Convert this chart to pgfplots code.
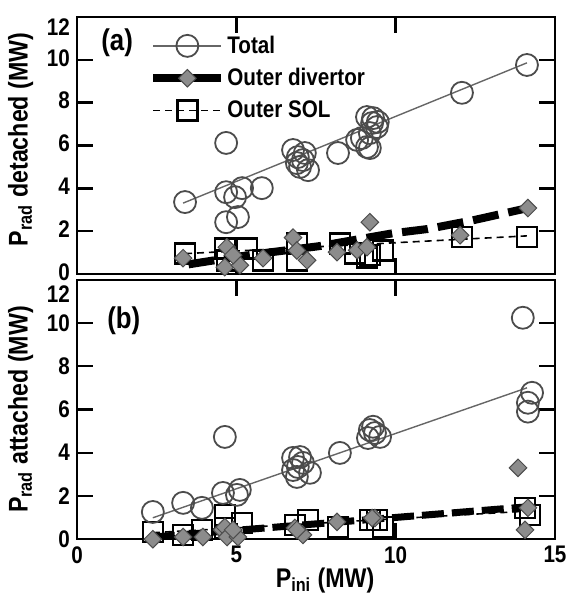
\documentclass[border=0pt]{standalone}
\usepackage{fontspec}
\setmainfont{Liberation Sans}[FakeStretch=0.86]
\usepackage{pgfplots}
\pgfplotsset{compat=1.18}

\pgfplotsset{
  panel/.style={
    scale only axis, width=239pt,
    xmin=0, xmax=15, ymin=0, ymax=12,
    xtick={0,5,10,15}, ytick={0,2,...,10},
    extra y ticks={12},
    tick align=inside, xtick pos=both, ytick pos=both,
    major tick length=8pt,
    every tick/.style={line width=1.2pt, black},
    axis line style={line width=1.2pt},
    tick label style={font=\fontsize{12}{12}\selectfont\bfseries},
    yticklabel style={inner ysep=0pt},
    /pgf/number format/assume math mode=true,
    label style={font=\fontsize{13.5}{14}\selectfont\bfseries},
    clip=false,
  },
  tot/.style={only marks, mark=o, mark size=5.5pt,
    mark options={draw=black!70, line width=0.9pt}, forget plot},
  div/.style={only marks, mark=square*, mark size=3.1pt,
    mark options={rotate=45, fill=black!45, draw=black!70, line width=0.5pt}, forget plot},
  sol/.style={only marks, mark=square, mark size=5pt,
    mark options={draw=black, line width=1.3pt}, forget plot},
  totline/.style={black!60, line width=0.7pt, forget plot},
  divline/.style={black, line width=4pt, dash pattern=on 13pt off 5pt, forget plot},
  solline/.style={black, line width=0.8pt, dash pattern=on 3.5pt off 2.5pt, forget plot},
}

\begin{document}
\begin{tikzpicture}
\useasboundingbox (0,0) rectangle (284pt,-297.5pt);

% ---------------- (a) detached ----------------
\begin{axis}[panel,
  at={(38.5pt,-137pt)}, anchor=south west, height=128.5pt,
  xticklabels={},
  yticklabel style={yshift=1pt},
  extra y tick style={yticklabel style={yshift=-6pt}},
  ylabel={P\textsubscript{rad} detached (MW)},
  every axis y label/.append style={at={(ticklabel cs:0.524)}},
  legend style={draw=none, fill=none, at={(0.138,0.96)}, anchor=north west,
    font=\fontsize{12}{12}\selectfont\bfseries, row sep=2pt,
    nodes={inner xsep=1pt, inner ysep=2pt}},
  legend cell align=left,
  legend image code/.code={\draw[#1, mark repeat=2, mark phase=2]
    plot coordinates {(0pt,0pt) (17pt,0pt) (34pt,0pt)};},
]
\addlegendimage{black!60, line width=0.7pt, mark=o, mark size=5.5pt,
  mark options={solid, draw=black!70, line width=0.9pt}}
\addlegendentry{Total}
\addlegendimage{black, line width=4pt, mark=square*, mark size=3.1pt,
  mark options={solid, rotate=45, fill=black!45, draw=black!70, line width=0.5pt}}
\addlegendentry{Outer divertor}
\addlegendimage{black, line width=0.8pt, dash pattern=on 3.5pt off 2.5pt,
  mark=square, mark size=5pt, mark options={solid, draw=black, line width=1.3pt}}
\addlegendentry{Outer SOL}

% outer SOL
\addplot[sol] coordinates {
  (3.39,0.97) (4.64,1.20) (5.33,1.20) (4.71,0.64) (5.84,0.64)
  (6.90,1.43) (6.90,0.64) (8.25,1.43) (8.72,0.97) (9.10,0.78)
  (9.60,1.11) (9.19,0.88) (12.08,1.72) (14.12,1.72)
};
\addplot[solline] coordinates {(3.39,0.95) (14.12,1.78)};
% outer divertor
\addplot[divline] coordinates {
  (3.5,0.45) (5.0,0.80) (6.0,1.00) (7.6,1.30) (9.9,1.90) (11.0,2.10) (12.4,2.50) (14.15,3.08)
};
\addplot[div] coordinates {
  (3.33,0.74) (4.70,1.25) (4.64,0.32) (5.11,0.41) (4.90,0.88) (5.84,0.74)
  (6.78,1.70) (6.90,1.10) (7.22,0.64) (8.16,1.02) (8.79,1.11)
  (9.19,2.42) (9.10,1.25) (12.02,1.81) (14.15,3.08)
};
% total
\addplot[tot] coordinates {
  (3.39,3.36) (4.68,6.12) (4.68,3.82) (4.96,3.59) (5.18,4.01) (5.80,4.01)
  (4.68,2.42) (5.05,2.66)
  (6.78,5.79) (6.93,5.46) (7.09,5.32) (7.00,5.00) (7.25,4.85) (6.90,5.18) (7.15,5.65)
  (8.19,5.65) (8.79,6.26) (8.94,6.35) (9.10,5.93) (9.19,5.88)
  (9.10,7.33) (9.26,7.05) (9.41,6.86) (9.19,6.58) (9.29,7.28) (9.44,7.10)
  (12.08,8.46) (14.12,9.76)
};
\addplot[totline] coordinates {(3.33,3.31) (14.12,9.86)};

\node[font=\fontsize{15}{15}\selectfont\bfseries] at (rel axis cs:0.084,0.899) {(a)};
\end{axis}

% ---------------- (b) attached ----------------
\begin{axis}[panel,
  at={(38.5pt,-269.6pt)}, anchor=south west, height=129.75pt,
  extra y tick style={yticklabel style={yshift=-7pt}},
  xlabel={P\textsubscript{ini} (MW)},
  every axis x label/.append style={at={(rel axis cs:0.519,0)}, anchor=base, yshift=-24pt},
  ylabel={P\textsubscript{rad} attached (MW)},
  every axis y label/.append style={at={(ticklabel cs:0.5)}},
]
% outer SOL
\addplot[sol] coordinates {
  (2.38,0.34) (3.33,0.20) (3.92,0.43) (4.64,1.12) (4.64,0.52) (5.18,0.75)
  (6.84,0.66) (7.25,0.89) (8.19,0.57) (9.19,0.89) (9.60,0.57) (9.41,0.89)
  (14.06,1.45) (14.21,1.12)
};
\addplot[solline] coordinates {(2.38,0.30) (14.15,1.30)};
% outer divertor
\addplot[divline, line width=3.5pt, dash pattern=on 11pt off 4pt] coordinates {(2.38,0.10) (14.15,1.50)};
\addplot[div] coordinates {
  (2.38,0.00) (3.33,0.10) (3.95,0.10) (4.55,0.43) (4.64,0.56) (4.71,0.10)
  (5.05,0.10) (4.90,0.43) (6.84,0.52) (7.09,0.20) (6.90,0.43)
  (8.16,0.80) (9.35,0.98) (9.26,0.98) (13.84,3.30) (14.15,1.45) (14.06,0.43)
};
% total
\addplot[tot] coordinates {
  (2.38,1.26) (3.33,1.68) (3.92,1.45) (4.58,2.14) (4.64,4.73) (5.11,2.28) (5.02,2.05)
  (6.78,3.76) (6.93,3.34) (7.09,3.53) (7.31,3.07) (6.90,2.88) (7.00,3.80) (6.78,3.20)
  (8.25,3.99)
  (9.19,5.05) (9.35,4.91) (9.51,4.73) (9.13,4.68) (9.29,5.20)
  (13.99,10.24) (14.28,6.77) (14.15,6.31) (14.15,5.90)
};
\addplot[totline] coordinates {(2.38,0.99) (14.12,7.00)};

\node[font=\fontsize{15}{15}\selectfont\bfseries] at (rel axis cs:0.098,0.842) {(b)};
\end{axis}
\end{tikzpicture}
\end{document}
